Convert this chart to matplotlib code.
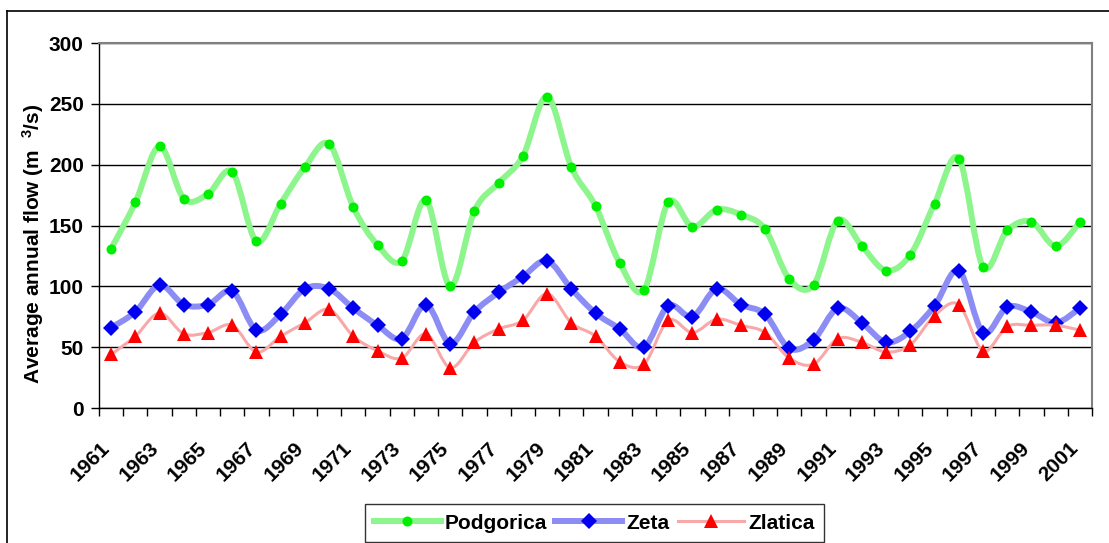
import numpy as np
import matplotlib
matplotlib.use("Agg")
import matplotlib.pyplot as plt
from matplotlib.path import Path
from matplotlib.patches import PathPatch
from matplotlib.lines import Line2D
import matplotlib.transforms as mtransforms

# data (m3/s)
years = list(range(1961, 2002))
podgorica = [131, 169, 215, 172, 176, 194, 137, 168, 198, 217, 165, 134, 121, 171, 100,
             162, 185, 207, 256, 198, 166, 119, 97, 169, 149, 163, 159, 147,
             106, 101, 154, 133, 113, 126, 168, 205, 116, 146, 153, 133, 153]
zeta = [66, 79, 101, 85, 85, 96, 64, 77, 98, 98, 82, 68, 57, 85, 53,
        79, 95, 108, 121, 98, 78, 65, 50, 84, 75, 98, 85, 77,
        49, 56, 82, 70, 54, 63, 84, 113, 62, 83, 79, 70, 82]
zlatica = [44, 59, 78, 61, 62, 68, 46, 59, 70, 81, 59, 47, 41, 61, 33,
           54, 65, 72, 94, 70, 59, 38, 36, 72, 62, 73, 68, 62,
           41, 36, 57, 54, 46, 52, 76, 85, 47, 67, 68, 68, 64]
series_names = ["Podgorica", "Zeta", "Zlatica"]

plt.rcParams["font.family"] = ["Liberation Sans", "DejaVu Sans"]
plt.rcParams["font.weight"] = "bold"
plt.rcParams["mathtext.fontset"] = "custom"
plt.rcParams["mathtext.rm"] = "Liberation Sans:bold"
plt.rcParams["mathtext.default"] = "rm"


def smooth_path(x, y):
    # excel-like smoothed line: bezier segments through the points
    pts = np.column_stack([x, y]).astype(float)
    n = len(pts)
    verts = [pts[0]]
    codes = [Path.MOVETO]
    for i in range(n - 1):
        p0 = pts[max(i - 1, 0)]
        p1 = pts[i]
        p2 = pts[i + 1]
        p3 = pts[min(i + 2, n - 1)]
        c1 = p1 + (p2 - p0) / 6.0
        c2 = p2 - (p3 - p1) / 6.0
        verts += [c1, c2, p2]
        codes += [Path.CURVE4] * 3
    return Path(verts, codes)


fig = plt.figure(figsize=(11.09, 5.43), dpi=100)
ax = fig.add_axes([0.0893, 0.2486, 0.8954, 0.6722])

x = np.arange(len(years))
styles = [
    (podgorica, "#8cf58c", 4.3, "o", "#00ee00", 7.2),
    (zeta, "#8c8cf5", 4.3, "D", "#0000ee", 8.0),
    (zlatica, "#f8a8a8", 2.2, "^", "#ff0000", 9.5),
]
handles = []
for k, (vals, lc, lw, mk, mc, ms) in enumerate(styles):
    patch = PathPatch(smooth_path(x, vals), facecolor="none", edgecolor=lc,
                      lw=lw, zorder=3 + 2 * k, capstyle="round", joinstyle="round")
    ax.add_patch(patch)
    ax.plot(x, vals, linestyle="none", marker=mk, color=mc, markersize=ms,
            markeredgewidth=0, zorder=4 + 2 * k)
    handles.append(Line2D([], [], color=lc, lw=lw, marker=mk, markerfacecolor=mc,
                          markeredgewidth=0, markersize=ms))

ax.set_xlim(-0.5, len(years) - 0.5)
ax.set_ylim(0, 300)
ax.set_yticks(np.arange(0, 301, 50))
ax.grid(axis="y", color="black", lw=1.0, zorder=1)
ax.set_axisbelow(True)

# labels every other year, tick marks between categories
ax.set_xticks(x[::2])
ax.set_xticklabels([str(yr) for yr in years[::2]], rotation=45, ha="right",
                   rotation_mode="anchor", fontsize=15, fontweight="bold")
ax.set_xticks(np.arange(-0.5, len(years), 1.0), minor=True)
ax.tick_params(axis="x", which="major", length=0, pad=22)
ax.tick_params(axis="x", which="minor", length=6, width=1, direction="out")
ax.tick_params(axis="y", length=6, width=1, direction="out", pad=5, labelsize=15)
for lab in ax.get_yticklabels():
    lab.set_fontweight("bold")
offset = mtransforms.ScaledTranslation(-11 / 100, 0, fig.dpi_scale_trans)
for lab in ax.get_xticklabels():
    lab.set_transform(lab.get_transform() + offset)

ax.set_ylabel("Average annual flow (m  $^{3}$/s)", fontsize=15, fontweight="bold")
ax.yaxis.set_label_coords(-0.053, 0.45)

for side in ["top", "right"]:
    ax.spines[side].set_color("#808080")
    ax.spines[side].set_linewidth(1.5)
for side in ["left", "bottom"]:
    ax.spines[side].set_color("black")
    ax.spines[side].set_linewidth(1.0)

leg = fig.legend(handles, series_names, loc="lower center", ncol=3,
                 bbox_to_anchor=(0.536, 0.0), bbox_transform=fig.transFigure,
                 frameon=True, fancybox=False, edgecolor="black", fontsize=15,
                 handlelength=3.2, handletextpad=0.2, columnspacing=0.4,
                 borderpad=0.45, borderaxespad=0.05)
leg.get_frame().set_linewidth(1.0)
for t in leg.get_texts():
    t.set_fontweight("bold")

# outer chart border (cropped)
fig.add_artist(Line2D([7 / 1109, 1.0], [1 - 11 / 543, 1 - 11 / 543],
                      transform=fig.transFigure, color="black", lw=1.2))
fig.add_artist(Line2D([7 / 1109, 7 / 1109], [0.0, 1 - 11 / 543],
                      transform=fig.transFigure, color="black", lw=1.2))

fig.savefig("out.png", dpi=100)
